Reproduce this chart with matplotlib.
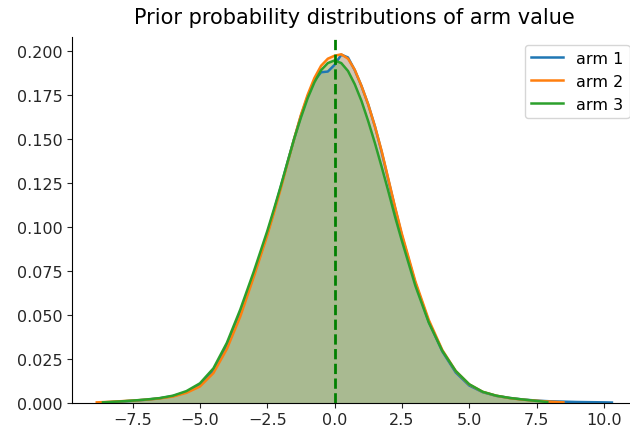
import matplotlib
matplotlib.use("Agg")
import matplotlib.pyplot as plt

# density curves of the prior samples for each arm
arm1_x = [-8.4, -8.0, -7.5, -7.0, -6.5, -6.0, -5.5, -5.0, -4.5, -4.0, -3.5, -3.0,
          -2.5, -2.25, -2.0, -1.75, -1.5, -1.25, -1.0, -0.75, -0.5, -0.25, 0.0,
          0.25, 0.5, 0.75, 1.0, 1.25, 1.5, 1.75, 2.0, 2.25, 2.5, 3.0, 3.5, 4.0,
          4.5, 5.0, 5.5, 6.0, 6.5, 7.0, 7.5, 8.0, 8.5, 9.0, 9.5, 10.0, 10.3]
arm1_y = [0.0002, 0.0006, 0.0011, 0.0017, 0.0025, 0.0038, 0.0060, 0.0100, 0.0180,
          0.0320, 0.0510, 0.0725, 0.0960, 0.1090, 0.1225, 0.1365, 0.1500, 0.1630,
          0.1740, 0.1830, 0.1878, 0.1882, 0.1920, 0.1978, 0.1962, 0.1890, 0.1800,
          0.1695, 0.1570, 0.1425, 0.1265, 0.1105, 0.0950, 0.0680, 0.0460, 0.0292,
          0.0172, 0.0098, 0.0060, 0.0039, 0.0027, 0.0018, 0.0012, 0.0008, 0.0006,
          0.0004, 0.0003, 0.0002, 0.0001]

arm2_x = [-8.83, -8.5, -8.0, -7.5, -7.0, -6.5, -6.0, -5.5, -5.0, -4.5, -4.0, -3.5,
          -3.0, -2.5, -2.25, -2.0, -1.75, -1.5, -1.25, -1.0, -0.75, -0.5, -0.25,
          0.0, 0.25, 0.5, 0.75, 1.0, 1.25, 1.5, 1.75, 2.0, 2.25, 2.5, 3.0, 3.5,
          4.0, 4.5, 5.0, 5.5, 6.0, 6.5, 7.0, 7.5, 8.0, 8.5]
arm2_y = [0.0002, 0.0004, 0.0008, 0.0012, 0.0017, 0.0024, 0.0035, 0.0056, 0.0092,
          0.0168, 0.0305, 0.0490, 0.0715, 0.0950, 0.1080, 0.1215, 0.1360, 0.1500,
          0.1635, 0.1750, 0.1845, 0.1915, 0.1955, 0.1972, 0.1980, 0.1955, 0.1892,
          0.1800, 0.1695, 0.1570, 0.1430, 0.1270, 0.1110, 0.0960, 0.0690, 0.0470,
          0.0300, 0.0180, 0.0104, 0.0062, 0.0040, 0.0026, 0.0017, 0.0011, 0.0006,
          0.0002]

arm3_x = [-8.6, -8.0, -7.5, -7.0, -6.5, -6.0, -5.5, -5.0, -4.5, -4.0, -3.5, -3.0,
          -2.5, -2.25, -2.0, -1.75, -1.5, -1.25, -1.0, -0.75, -0.5, -0.25, 0.0,
          0.25, 0.5, 0.75, 1.0, 1.25, 1.5, 1.75, 2.0, 2.25, 2.5, 3.0, 3.5, 4.0,
          4.5, 5.0, 5.5, 6.0, 6.5, 7.0, 7.5, 7.9]
arm3_y = [0.0002, 0.0007, 0.0012, 0.0018, 0.0026, 0.0040, 0.0066, 0.0110, 0.0195,
          0.0340, 0.0530, 0.0745, 0.0975, 0.1100, 0.1230, 0.1365, 0.1500, 0.1620,
          0.1730, 0.1820, 0.1890, 0.1930, 0.1945, 0.1930, 0.1885, 0.1810, 0.1715,
          0.1600, 0.1475, 0.1340, 0.1200, 0.1055, 0.0920, 0.0665, 0.0455, 0.0295,
          0.0180, 0.0105, 0.0062, 0.0040, 0.0027, 0.0018, 0.0010, 0.0004]

labels = ["arm 1", "arm 2", "arm 3"]
prior_mean = 0.0

fig = plt.figure(figsize=(6.3, 4.31), dpi=100)
ax = fig.add_axes([72 / 630, 27.3 / 431, 565.5 / 630, 366 / 431])

curves = [(arm1_x, arm1_y), (arm2_x, arm2_y), (arm3_x, arm3_y)]
for i, (xs, ys) in enumerate(curves):
    c = f"C{i}"
    ax.fill_between(xs, ys, color=c, alpha=0.25, linewidth=0)
    ax.plot(xs, ys, color=c, linewidth=1.8, label=labels[i])

ax.axvline(prior_mean, color="green", linestyle="--", linewidth=2)

ax.set_xlim(-9.75, 11.25)
ax.set_ylim(0, 0.208)
ax.set_xticks([-7.5, -5.0, -2.5, 0.0, 2.5, 5.0, 7.5, 10.0])
ax.set_yticks([0.0, 0.025, 0.05, 0.075, 0.1, 0.125, 0.15, 0.175, 0.2])
ax.tick_params(labelsize=11.5, colors="#262626")
ax.spines["top"].set_visible(False)
ax.spines["right"].set_visible(False)

ax.set_title("Prior probability distributions of arm value", fontsize=15, pad=10)
ax.legend(loc="upper right", fontsize=11.5)

fig.savefig("out.png", dpi=100)
